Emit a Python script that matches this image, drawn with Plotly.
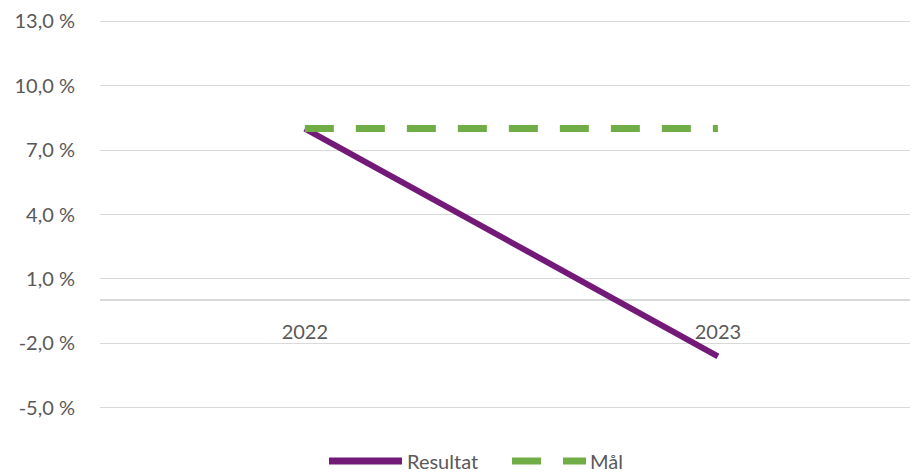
import plotly.graph_objects as go

categories = ["2022", "2023"]
resultat = [8.0, -2.6]
maal = [8.0, 8.0]
series_names = ["Resultat", "Mål"]
series_colors = ["#731A78", "#70AD47"]
y_ticks = [-5, -2, 1, 4, 7, 10, 13]
y_ticktext = [f"{v:.1f}".replace(".", ",") + " %" for v in y_ticks]

y_min, y_max = -5.1, 13.1
font_family = "Lato, 'Open Sans', sans-serif"
text_color = "#595959"

# page body has an 8px margin; size the figure to fit the 918x472 window
OFF = 8
W, H = 918 - OFF, 472 - OFF
ML, MR, MT, MB = 92, 1, 11, 62
PW, PH = W - ML - MR, H - MT - MB


def px_x(px):
    return (px - OFF - ML) / PW


def px_y(py):
    return (H - MB - (py - OFF)) / PH


fig = go.Figure()
fig.add_trace(go.Scatter(
    x=categories, y=resultat, name=series_names[0], mode="lines",
    line=dict(color=series_colors[0], width=6),
))
fig.add_trace(go.Scatter(
    x=categories, y=maal, name=series_names[1], mode="lines",
    line=dict(color=series_colors[1], width=7, dash="29px,22px"),
))

# custom legend (layout decoration)
leg_y = px_y(461)
shapes = [
    dict(type="line", xref="paper", yref="paper", x0=px_x(329), x1=px_x(402),
         y0=leg_y, y1=leg_y, line=dict(color=series_colors[0], width=7)),
    dict(type="line", xref="paper", yref="paper", x0=px_x(512), x1=px_x(586),
         y0=leg_y, y1=leg_y, line=dict(color=series_colors[1], width=7, dash="29px,22px")),
]
annotations = [
    dict(text=series_names[0], xref="paper", yref="paper", x=px_x(405), y=leg_y,
         xanchor="left", yanchor="middle", showarrow=False,
         font=dict(size=20, color=text_color)),
    dict(text=series_names[1], xref="paper", yref="paper", x=px_x(588), y=leg_y,
         xanchor="left", yanchor="middle", showarrow=False,
         font=dict(size=20, color=text_color)),
]

fig.update_layout(
    width=W, height=H,
    margin=dict(l=ML, r=MR, t=MT, b=MB, autoexpand=False),
    paper_bgcolor="white", plot_bgcolor="white",
    font=dict(family=font_family, size=20, color=text_color),
    showlegend=False,
    shapes=shapes,
    annotations=annotations,
    xaxis=dict(
        type="category", range=[-0.496, 1.482],
        showgrid=False, zeroline=False, showline=False, ticks="",
        anchor="free", position=(0 - y_min) / (y_max - y_min),
        ticklabelstandoff=18, automargin=False,
    ),
    yaxis=dict(
        range=[y_min, y_max], tickvals=y_ticks, ticktext=y_ticktext,
        showgrid=True, gridcolor="#D9D9D9", gridwidth=1,
        zeroline=True, zerolinecolor="#D9D9D9", zerolinewidth=2,
        showline=False, ticks="", ticklabelstandoff=24, automargin=False,
    ),
)

fig.write_html("out.html")
